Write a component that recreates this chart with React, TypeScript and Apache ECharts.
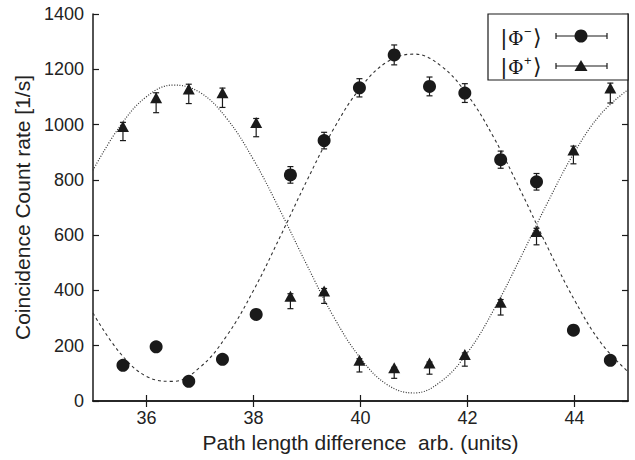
import React, { useEffect, useRef } from "react";
import * as echarts from "echarts";

// measured x positions (path length difference)
const xs = [35.56, 36.18, 36.79, 37.42, 38.05, 38.69, 39.32, 39.98, 40.63, 41.29, 41.95, 42.62, 43.29, 43.98, 44.67];
// |Phi-> coincidence rates (circles)
const phiMinus = [129, 196, 71, 151, 313, 818, 942, 1133, 1252, 1138, 1114, 873, 793, 256, 147];
const phiMinusErr = [15, 15, 15, 15, 15, 30, 30, 33, 36, 34, 34, 31, 30, 15, 15];
// |Phi+> coincidence rates (triangles)
const phiPlus = [975, 1079, 1111, 1097, 989, 361, 380, 129, 102, 119, 150, 339, 595, 890, 1114];
const phiPlusErr = [33, 36, 35, 35, 33, 27, 27, 24, 20, 22, 24, 28, 30, 32, 36];
// fit curves
const fitX = [35, 35.5, 36, 36.5, 37, 37.5, 38, 38.5, 39, 39.5, 40, 40.5, 41, 41.5, 42, 42.5, 43, 43.5, 44, 44.5, 45];
const fitMinus = [318, 175, 89, 71, 122, 236, 400, 595, 798, 985, 1133, 1227, 1255, 1213, 1107, 950, 758, 555, 365, 209, 106];
const fitPlus = [835, 993, 1101, 1143, 1116, 1022, 873, 688, 491, 304, 155, 59, 29, 70, 175, 333, 522, 719, 900, 1040, 1126];
const xTicks = [36, 38, 40, 42, 44];

const INK = "#1a1a1a";
const FONT = "'Liberation Sans', Arial, Helvetica, sans-serif";
const SERIF = "'DejaVu Serif', 'Liberation Serif', serif";

function errRender(params: any, api: any) {
  const x = api.value(0);
  const y = api.value(1);
  const e = api.value(2);
  const top = api.coord([x, y + e]);
  const bot = api.coord([x, y - e]);
  const cap = 3;
  const style = { stroke: INK, lineWidth: 1.2 };
  return {
    type: "group",
    children: [
      { type: "line", shape: { x1: top[0], y1: top[1], x2: bot[0], y2: bot[1] }, style },
      { type: "line", shape: { x1: top[0] - cap, y1: top[1], x2: top[0] + cap, y2: top[1] }, style },
      { type: "line", shape: { x1: bot[0] - cap, y1: bot[1], x2: bot[0] + cap, y2: bot[1] }, style },
    ],
  };
}

function legendLabel(y: number, sup: string) {
  return [
    { type: "text", x: 501, y, style: { text: "|", font: `22px ${FONT}`, fill: INK, verticalAlign: "middle" }, z: 11 },
    { type: "text", x: 508, y: y + 1, style: { text: "Φ", font: `19px ${SERIF}`, fill: INK, verticalAlign: "middle" }, z: 11 },
    { type: "text", x: 524, y: y - 6, style: { text: sup, font: `13px ${FONT}`, fill: INK, verticalAlign: "middle" }, z: 11 },
    { type: "text", x: 533, y, style: { text: "⟩", font: `22px ${SERIF}`, fill: INK, verticalAlign: "middle" }, z: 11 },
  ];
}

export default function App() {
  const ref = useRef<HTMLDivElement>(null);
  useEffect(() => {
    if (!ref.current) return;
    const chart = echarts.init(ref.current, null, { renderer: "svg" });
    const axisCommon = {
      axisLine: { show: true, lineStyle: { color: INK, width: 1.5 } },
      splitLine: { show: false },
    };
    chart.setOption({
      animation: false,
      backgroundColor: "#ffffff",
      grid: { left: 93, right: 7, top: 14, bottom: 59, outerBoundsMode: "none" },
      xAxis: [
        {
          type: "value",
          min: 35,
          max: 45,
          position: "bottom",
          ...axisCommon,
          axisTick: { show: true, inside: true, length: 6, customValues: xTicks, lineStyle: { color: INK, width: 1.2 } },
          axisLabel: { customValues: xTicks, fontFamily: FONT, fontSize: 18, color: "#222", margin: 8 },
          name: "Path length difference  arb. (units)",
          nameLocation: "middle",
          nameGap: 24,
          nameTextStyle: { fontFamily: FONT, fontSize: 21, color: "#222" },
        },
        {
          type: "value",
          min: 35,
          max: 45,
          position: "top",
          ...axisCommon,
          axisTick: { show: true, inside: true, length: 6, customValues: xTicks, lineStyle: { color: INK, width: 1.2 } },
          axisLabel: { show: false },
        },
      ],
      yAxis: [
        {
          type: "value",
          min: 0,
          max: 1400,
          interval: 200,
          position: "left",
          ...axisCommon,
          axisTick: { show: true, inside: true, length: 6, lineStyle: { color: INK, width: 1.2 } },
          axisLabel: { fontFamily: FONT, fontSize: 18, color: "#222", margin: 9, formatter: (v: number) => String(v) },
          name: "Coincidence Count rate [1/s]",
          nameLocation: "middle",
          nameGap: 50,
          nameTextStyle: { fontFamily: FONT, fontSize: 21, color: "#222" },
        },
        {
          type: "value",
          min: 0,
          max: 1400,
          interval: 200,
          position: "right",
          ...axisCommon,
          axisTick: { show: true, inside: true, length: 6, lineStyle: { color: INK, width: 1.2 } },
          axisLabel: { show: false },
        },
      ],
      series: [
        {
          type: "line",
          data: fitX.map((x, i) => [x, fitMinus[i]]),
          smooth: 0.4,
          showSymbol: false,
          silent: true,
          lineStyle: { color: "#333", width: 1.1, type: [3, 3] },
          z: 1,
        },
        {
          type: "line",
          data: fitX.map((x, i) => [x, fitPlus[i]]),
          smooth: 0.4,
          showSymbol: false,
          silent: true,
          lineStyle: { color: "#333", width: 1.2, type: [1, 1.6] },
          z: 1,
        },
        {
          type: "custom",
          renderItem: errRender,
          data: xs.map((x, i) => [x, phiMinus[i], phiMinusErr[i]]),
          z: 2,
        },
        {
          type: "custom",
          renderItem: errRender,
          data: xs.map((x, i) => [x, phiPlus[i], phiPlusErr[i]]),
          z: 2,
        },
        {
          name: "|Φ−⟩",
          type: "scatter",
          data: xs.map((x, i) => [x, phiMinus[i]]),
          symbol: "circle",
          symbolSize: 13,
          itemStyle: { color: INK, opacity: 1 },
          z: 3,
        },
        {
          name: "|Φ+⟩",
          type: "scatter",
          data: xs.map((x, i) => [x, phiPlus[i]]),
          symbol: "triangle",
          symbolSize: [12, 11],
          symbolOffset: [0, -5],
          itemStyle: { color: INK, opacity: 1 },
          z: 3,
        },
      ],
      graphic: [
        {
          type: "rect",
          shape: { x: 488, y: 14, width: 140, height: 66 },
          style: { fill: "#fff", stroke: INK, lineWidth: 1.2 },
          z: 10,
        },
        ...legendLabel(37, "−"),
        ...legendLabel(66, "+"),
        { type: "line", shape: { x1: 556, y1: 36, x2: 607, y2: 36 }, style: { stroke: INK, lineWidth: 1.2 }, z: 11 },
        { type: "line", shape: { x1: 556, y1: 33, x2: 556, y2: 39 }, style: { stroke: INK, lineWidth: 1.2 }, z: 11 },
        { type: "line", shape: { x1: 607, y1: 33, x2: 607, y2: 39 }, style: { stroke: INK, lineWidth: 1.2 }, z: 11 },
        { type: "circle", shape: { cx: 581, cy: 36, r: 6.5 }, style: { fill: INK }, z: 12 },
        { type: "line", shape: { x1: 556, y1: 66, x2: 607, y2: 66 }, style: { stroke: INK, lineWidth: 1.2 }, z: 11 },
        { type: "line", shape: { x1: 556, y1: 63, x2: 556, y2: 69 }, style: { stroke: INK, lineWidth: 1.2 }, z: 11 },
        { type: "line", shape: { x1: 607, y1: 63, x2: 607, y2: 69 }, style: { stroke: INK, lineWidth: 1.2 }, z: 11 },
        { type: "polygon", shape: { points: [[581, 60], [587.5, 71], [574.5, 71]] }, style: { fill: INK }, z: 12 },
      ],
    });
    return () => chart.dispose();
  }, []);
  return (
    <div
      ref={ref}
      style={{ position: "absolute", left: 0, top: 0, width: 635, height: 460, background: "#fff" }}
    />
  );
}
